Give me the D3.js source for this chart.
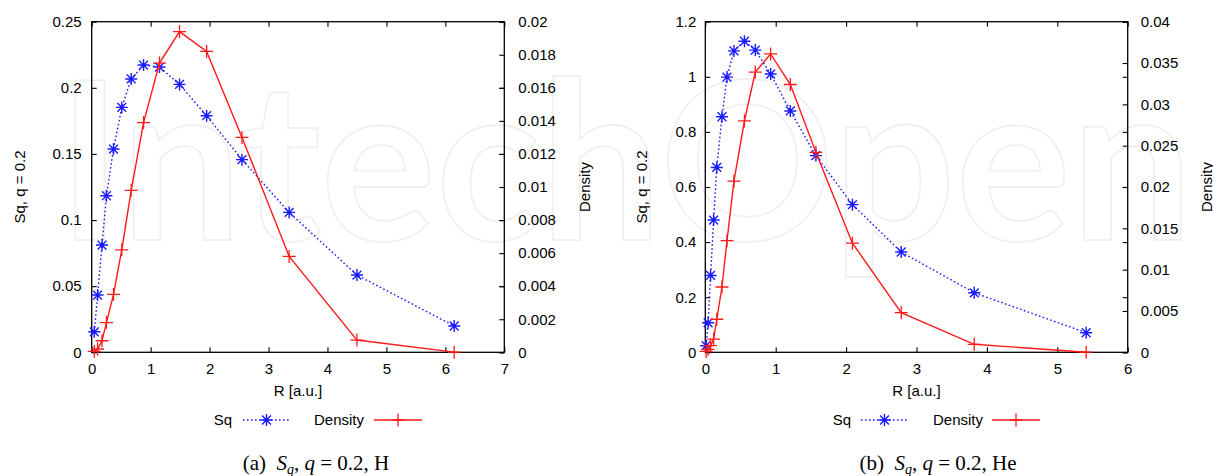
<!DOCTYPE html>
<html>
<head>
<meta charset="utf-8">
<script src="https://cdn.jsdelivr.net/npm/d3@7"></script>
<style>
  html, body { margin: 0; padding: 0; background: #fff; overflow: hidden; }
  svg { display: block; }
  text { font-family: "Liberation Sans", Arial, Helvetica, sans-serif; fill: #000; }
</style>
</head>
<body>
<svg id="fig" width="1213" height="476"></svg>
<script>
// ---- Panel (a): hydrogen, q = 0.2 ----
const rH    = [0.044, 0.10, 0.175, 0.25, 0.37, 0.51, 0.67, 0.88, 1.15, 1.49, 1.95, 2.55, 3.35, 4.50, 6.15];
const sqH   = [0.0155, 0.0433, 0.0811, 0.1184, 0.1537, 0.1852, 0.2067, 0.2172, 0.2157, 0.2026, 0.1789, 0.1457, 0.1058, 0.0584, 0.0199];
const densH = [0.00005, 0.0002, 0.0007, 0.0018, 0.0035, 0.0062, 0.0098, 0.0139, 0.0175, 0.0194, 0.0182, 0.0130, 0.0058, 0.00074, 0.00001];

// ---- Panel (b): helium, q = 0.2 ----
const rHe    = [0.012, 0.04, 0.075, 0.118, 0.163, 0.237, 0.308, 0.407, 0.556, 0.71, 0.928, 1.208, 1.571, 2.09, 2.783, 3.82, 5.41];
const sqHe   = [0.024, 0.107, 0.279, 0.480, 0.671, 0.855, 0.999, 1.094, 1.129, 1.097, 1.010, 0.876, 0.714, 0.536, 0.364, 0.216, 0.071];
const densHe = [0.0001, 0.00036, 0.0008, 0.0016, 0.0040, 0.0079, 0.0135, 0.0207, 0.0280, 0.0339, 0.0361, 0.0324, 0.0242, 0.0132, 0.0048, 0.00097, 0.00001];

// ---- Axis ticks ----
const xTicksH   = [0, 1, 2, 3, 4, 5, 6, 7];
const yTicksH   = [0, 0.05, 0.1, 0.15, 0.2, 0.25];
const y2TicksH  = [0, 0.002, 0.004, 0.006, 0.008, 0.01, 0.012, 0.014, 0.016, 0.018, 0.02];
const xTicksHe  = [0, 1, 2, 3, 4, 5, 6];
const yTicksHe  = [0, 0.2, 0.4, 0.6, 0.8, 1, 1.2];
const y2TicksHe = [0, 0.005, 0.01, 0.015, 0.02, 0.025, 0.03, 0.035, 0.04];

// ---- Text ----
const seriesNames = ["Sq", "Density"];
const xTitle  = "R [a.u.]";
const yTitle  = "Sq, q = 0.2";
const y2Title = "Density";
const captionTags  = ["(a)", "(b)"];
const captionAtoms = ["H", "He"];

const svg = d3.select("#fig");
const fmt = v => String(+v.toFixed(4));

// faint background watermark
svg.append("text")
  .attr("x", 58).attr("y", 240)
  .attr("textLength", 1135).attr("lengthAdjust", "spacingAndGlyphs")
  .style("font-family", "Lato, 'Open Sans', sans-serif")
  .style("font-weight", 700)
  .style("font-size", "220px")
  .style("fill", "none")
  .style("stroke", "#f0f0f0")
  .style("stroke-width", 1.8)
  .text("IntechOpen");

const starPath = "M-6,0H6M0,-6V6M-4.4,-4.4L4.4,4.4M-4.4,4.4L4.4,-4.4";
const plusPath = "M-6.5,0H6.5M0,-6.5V6.5";
const BLUE = "#1a1aff", RED = "#ff1a1a";

function drawPanel(p) {
  const g = svg.append("g");
  const x  = d3.scaleLinear().domain([0, p.xMax]).range([p.left, p.right]);
  const y  = d3.scaleLinear().domain([0, p.yMax]).range([p.bottom, p.top]);
  const y2 = d3.scaleLinear().domain([0, p.y2Max]).range([p.bottom, p.top]);

  const axStyle = sel => {
    sel.select(".domain").remove();
    sel.selectAll(".tick line").attr("stroke", "#000").attr("stroke-width", 1.1);
    sel.selectAll("text").style("font-size", "15px").attr("fill", "#000");
  };

  // bottom and top (mirrored) x ticks
  g.append("g").attr("transform", `translate(0,${p.bottom})`)
    .call(d3.axisBottom(x).tickValues(p.xTicks).tickFormat(fmt).tickSizeInner(-5).tickSizeOuter(0).tickPadding(11))
    .call(axStyle);
  g.append("g").attr("transform", `translate(0,${p.top})`)
    .call(d3.axisTop(x).tickValues(p.xTicks).tickFormat("").tickSizeInner(-5).tickSizeOuter(0))
    .call(axStyle);
  // left y ticks and their mirror on the right
  g.append("g").attr("transform", `translate(${p.left},0)`)
    .call(d3.axisLeft(y).tickValues(p.yTicks).tickFormat(fmt).tickSizeInner(-5).tickSizeOuter(0).tickPadding(p.yPad))
    .call(axStyle);
  g.append("g").attr("transform", `translate(${p.right},0)`)
    .call(d3.axisRight(y).tickValues(p.yTicks).tickFormat("").tickSizeInner(-5).tickSizeOuter(0))
    .call(axStyle);
  // right y2 ticks
  g.append("g").attr("transform", `translate(${p.right},0)`)
    .call(d3.axisRight(y2).tickValues(p.y2Ticks).tickFormat(fmt).tickSizeInner(-5).tickSizeOuter(0).tickPadding(p.y2Pad))
    .call(axStyle);

  // frame
  g.append("rect")
    .attr("x", p.left).attr("y", p.top)
    .attr("width", p.right - p.left).attr("height", p.bottom - p.top)
    .attr("fill", "none").attr("stroke", "#000").attr("stroke-width", 1.3);

  // Sq series (left axis)
  const sqPts = p.r.map((r, i) => [x(r), y(p.sq[i])]);
  g.append("path").attr("d", d3.line()(sqPts))
    .attr("fill", "none").attr("stroke", BLUE).attr("stroke-width", 1.4)
    .attr("stroke-dasharray", "1.6,2.4");
  g.selectAll(".star").data(sqPts).join("path")
    .attr("transform", d => `translate(${d[0]},${d[1]})`)
    .attr("d", starPath).attr("stroke", BLUE).attr("stroke-width", 1.4).attr("fill", "none");

  // Density series (right axis)
  const dPts = p.r.map((r, i) => [x(r), y2(p.dens[i])]);
  g.append("path").attr("d", d3.line()(dPts))
    .attr("fill", "none").attr("stroke", RED).attr("stroke-width", 1.4);
  g.selectAll(".plus").data(dPts).join("path")
    .attr("transform", d => `translate(${d[0]},${d[1]})`)
    .attr("d", plusPath).attr("stroke", RED).attr("stroke-width", 1.3).attr("fill", "none");

  // axis titles
  const cx = (p.left + p.right) / 2, cy = (p.top + p.bottom) / 2;
  g.append("text").attr("x", cx).attr("y", 396).attr("text-anchor", "middle")
    .style("font-size", "15px").text(xTitle);
  g.append("text").attr("transform", `translate(${p.yTitleX},${cy}) rotate(-90)`)
    .attr("text-anchor", "middle").style("font-size", "15px").text(yTitle);
  g.append("text").attr("transform", `translate(${p.y2TitleX},${cy}) rotate(-90)`)
    .attr("text-anchor", "middle").style("font-size", "15px").text(y2Title);

  // legend
  const ly = 420, L = p.legend;
  g.append("text").attr("x", L.sqText).attr("y", ly).attr("dy", "0.36em")
    .attr("text-anchor", "end").style("font-size", "15px").text(seriesNames[0]);
  g.append("line").attr("x1", L.sqLine).attr("x2", L.sqLine + 47).attr("y1", ly).attr("y2", ly)
    .attr("stroke", BLUE).attr("stroke-width", 1.4).attr("stroke-dasharray", "1.6,2.4");
  g.append("path").attr("transform", `translate(${L.sqLine + 23.5},${ly})`)
    .attr("d", starPath).attr("stroke", BLUE).attr("stroke-width", 1.4).attr("fill", "none");
  g.append("text").attr("x", L.dText).attr("y", ly).attr("dy", "0.36em")
    .attr("text-anchor", "end").style("font-size", "15px").text(seriesNames[1]);
  g.append("line").attr("x1", L.dLine).attr("x2", L.dLine + 48).attr("y1", ly).attr("y2", ly)
    .attr("stroke", RED).attr("stroke-width", 1.4);
  g.append("path").attr("transform", `translate(${L.dLine + 24},${ly})`)
    .attr("d", plusPath).attr("stroke", RED).attr("stroke-width", 1.3).attr("fill", "none");

  // caption
  const cap = g.append("text").attr("x", p.capX).attr("y", 470).attr("text-anchor", "middle")
    .style("font-family", "'Liberation Serif', 'DejaVu Serif', serif").style("font-size", "21px");
  cap.append("tspan").text(p.tag + "\u2002");
  cap.append("tspan").style("font-style", "italic").text("S");
  cap.append("tspan").style("font-style", "italic").style("font-size", "14px").attr("dy", 4).text("q");
  cap.append("tspan").attr("dy", -4).text(", ");
  cap.append("tspan").style("font-style", "italic").text("q");
  cap.append("tspan").text(" = 0.2, " + p.atom);
}

drawPanel({
  left: 91.7, right: 504.3, top: 21.7, bottom: 352.3,
  xMax: 7, yMax: 0.25, y2Max: 0.02,
  xTicks: xTicksH, yTicks: yTicksH, y2Ticks: y2TicksH,
  yPad: 10, y2Pad: 14,
  r: rH, sq: sqH, dens: densH,
  yTitleX: 25, y2TitleX: 590,
  legend: { sqText: 232, sqLine: 243, dText: 364, dLine: 374 },
  capX: 316, tag: captionTags[0], atom: captionAtoms[0]
});

drawPanel({
  left: 705.3, right: 1127.7, top: 21.7, bottom: 352.3,
  xMax: 6, yMax: 1.2, y2Max: 0.04,
  xTicks: xTicksHe, yTicks: yTicksHe, y2Ticks: y2TicksHe,
  yPad: 9, y2Pad: 13,
  r: rHe, sq: sqHe, dens: densHe,
  yTitleX: 647, y2TitleX: 1212,
  legend: { sqText: 851, sqLine: 861, dText: 983, dLine: 992 },
  capX: 938, tag: captionTags[1], atom: captionAtoms[1]
});
</script>
</body>
</html>
